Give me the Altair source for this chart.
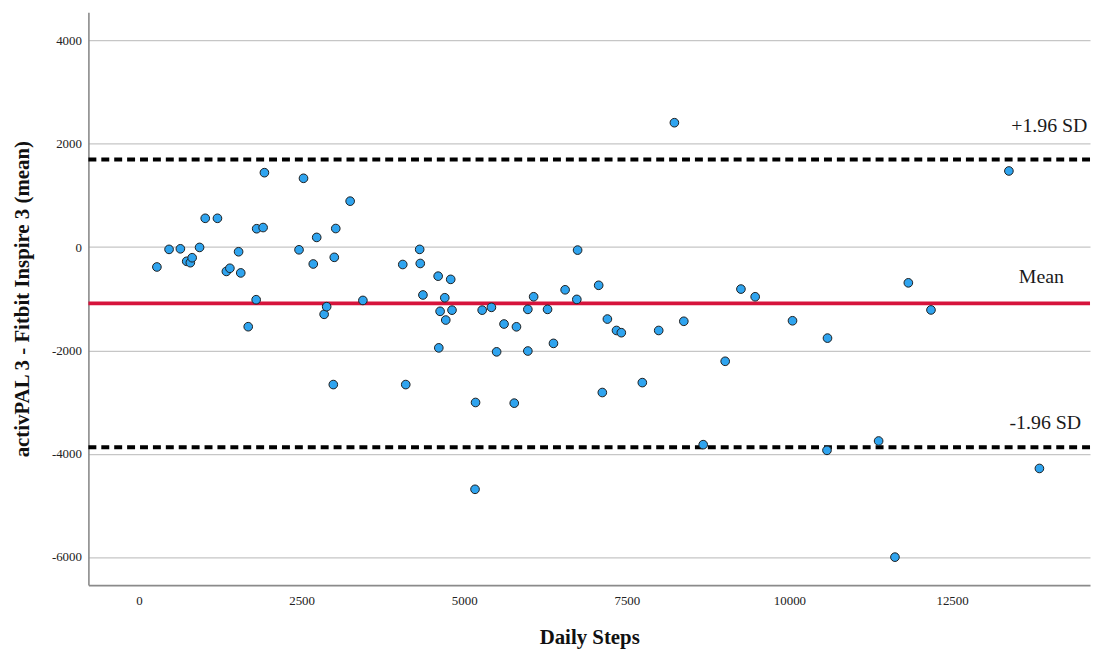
import altair as alt
import pandas as pd

# Daily steps (x) and activPAL 3 - Fitbit Inspire 3 difference (y)
steps = [275, 462, 636, 733, 789, 817, 931, 1018, 1206, 1343,
         1397, 1531, 1564, 1679, 1801, 1809, 1908, 1928, 2460, 2529,
         2679, 2732, 2846, 2885, 2987, 3002, 3025, 3246, 3442, 4055,
         4101, 4315, 4324, 4365, 4599, 4609, 4629, 4701, 4716, 4792,
         4812, 5166, 5174, 5276, 5418, 5498, 5612, 5769, 5803, 5978,
         5978, 6067, 6281, 6372, 6551, 6731, 6743, 7067, 7123, 7201,
         7341, 7415, 7738, 7990, 8231, 8376, 8674, 9012, 9254, 9473,
         10047, 10585, 10577, 11371, 11622, 11828, 12176, 13374, 13843]
diffs = [-385, -44, -33, -275, -302, -206, -6, 558, 558, -471,
         -410, -90, -500, -1542, -1019, 356, 379, 1442, -52, 1333,
         -327, 188, -1302, -1154, -2663, -198, 360, 890, -1033, -337,
         -2663, -44, -317, -927, -563, -1952, -1244, -981, -1413, -625,
         -1221, -4692, -3010, -1221, -1167, -2029, -1490, -3023, -1544, -1206,
         -2013, -962, -1206, -1865, -827, -1013, -58, -740, -2817, -1394,
         -1615, -1658, -2625, -1615, 2410, -1437, -3827, -2212, -813, -962,
         -1427, -1763, -3937, -3756, -6006, -692, -1217, 1475, -4288]

mean_diff = [-1090]
loa_values = [1698, -3878]
loa_upper = [1698]
loa_lower = [-3878]
x_ticks = [0, 2500, 5000, 7500, 10000, 12500]
y_ticks = [-6000, -4000, -2000, 0, 2000, 4000]

FONT = "Liberation Serif"

df = pd.DataFrame({"diff": diffs, "steps": steps})

xscale = alt.Scale(domain=[-778, 14621], nice=False, zero=False)
yscale = alt.Scale(domain=[-6548, 4548], nice=False, zero=False)

x_axis = alt.Axis(
    title="Daily Steps", values=x_ticks, grid=False, ticks=False, tickSize=0,
    labelExpr="'' + datum.value", labelFont=FONT, labelFontSize=13, labelColor="#222222",
    labelBaseline="alphabetic", labelPadding=20, labelFlush=False,
    domainColor="#8a8a8a", domainWidth=1.6,
    titleFont=FONT, titleFontSize=21, titleFontWeight="bold", titleColor="#111111",
    titleBaseline="alphabetic", titleY=59,
)
y_axis = alt.Axis(
    title="activPAL 3 - Fitbit Inspire 3 (mean)", values=y_ticks, grid=True,
    gridColor="#c6c6c6", gridWidth=1.2, ticks=False, tickSize=0,
    labelExpr="'' + datum.value", labelFont=FONT, labelFontSize=13, labelColor="#222222",
    labelPadding=7, labelFlush=False,
    domainColor="#8a8a8a", domainWidth=1.6,
    titleFont=FONT, titleFontSize=21, titleFontWeight="bold", titleColor="#111111",
    titleBaseline="alphabetic", titleX=-60,
)


def yenc(field):
    return alt.Y(field, scale=yscale, axis=y_axis)


points = alt.Chart(df).mark_circle(
    size=76, color="#2fa4ef", stroke="#1e1e1e", strokeWidth=1, opacity=1
).encode(
    x=alt.X("steps:Q", scale=xscale, axis=x_axis),
    y=yenc("diff:Q"),
)

mean_rule = alt.Chart(pd.DataFrame({"diff": mean_diff})).mark_rule(
    color="#d6143c", strokeWidth=4
).encode(y=yenc("diff:Q"))

loa = alt.Chart(pd.DataFrame({"diff": loa_values})).mark_rule(
    color="#000000", strokeWidth=4, strokeDash=[8, 5]
).encode(y=yenc("diff:Q"))


def label(values, text, xpos, dy):
    return alt.Chart(pd.DataFrame({"diff": values, "t": [text]})).mark_text(
        align="center", baseline="alphabetic", dy=dy, font=FONT, fontSize=20, color="#1a1a1a"
    ).encode(
        x=alt.value(xpos),
        y=yenc("diff:Q"),
        text="t:N",
    )


t_up = label(loa_upper, "+1.96 SD", 968, -28)
t_mean = label(mean_diff, "Mean", 960, -21)
t_low = label(loa_lower, "-1.96 SD", 964, -18)

chart = alt.layer(mean_rule, loa, points, t_up, t_mean, t_low).properties(
    width=1009, height=577,
    padding={"left": 81, "top": 2, "right": 2, "bottom": 64},
    autosize=alt.AutoSizeParams(type="none"),
    background="white",
).configure_view(stroke=None)

chart.save("out.html", embed_options={"renderer": "svg", "actions": False})
